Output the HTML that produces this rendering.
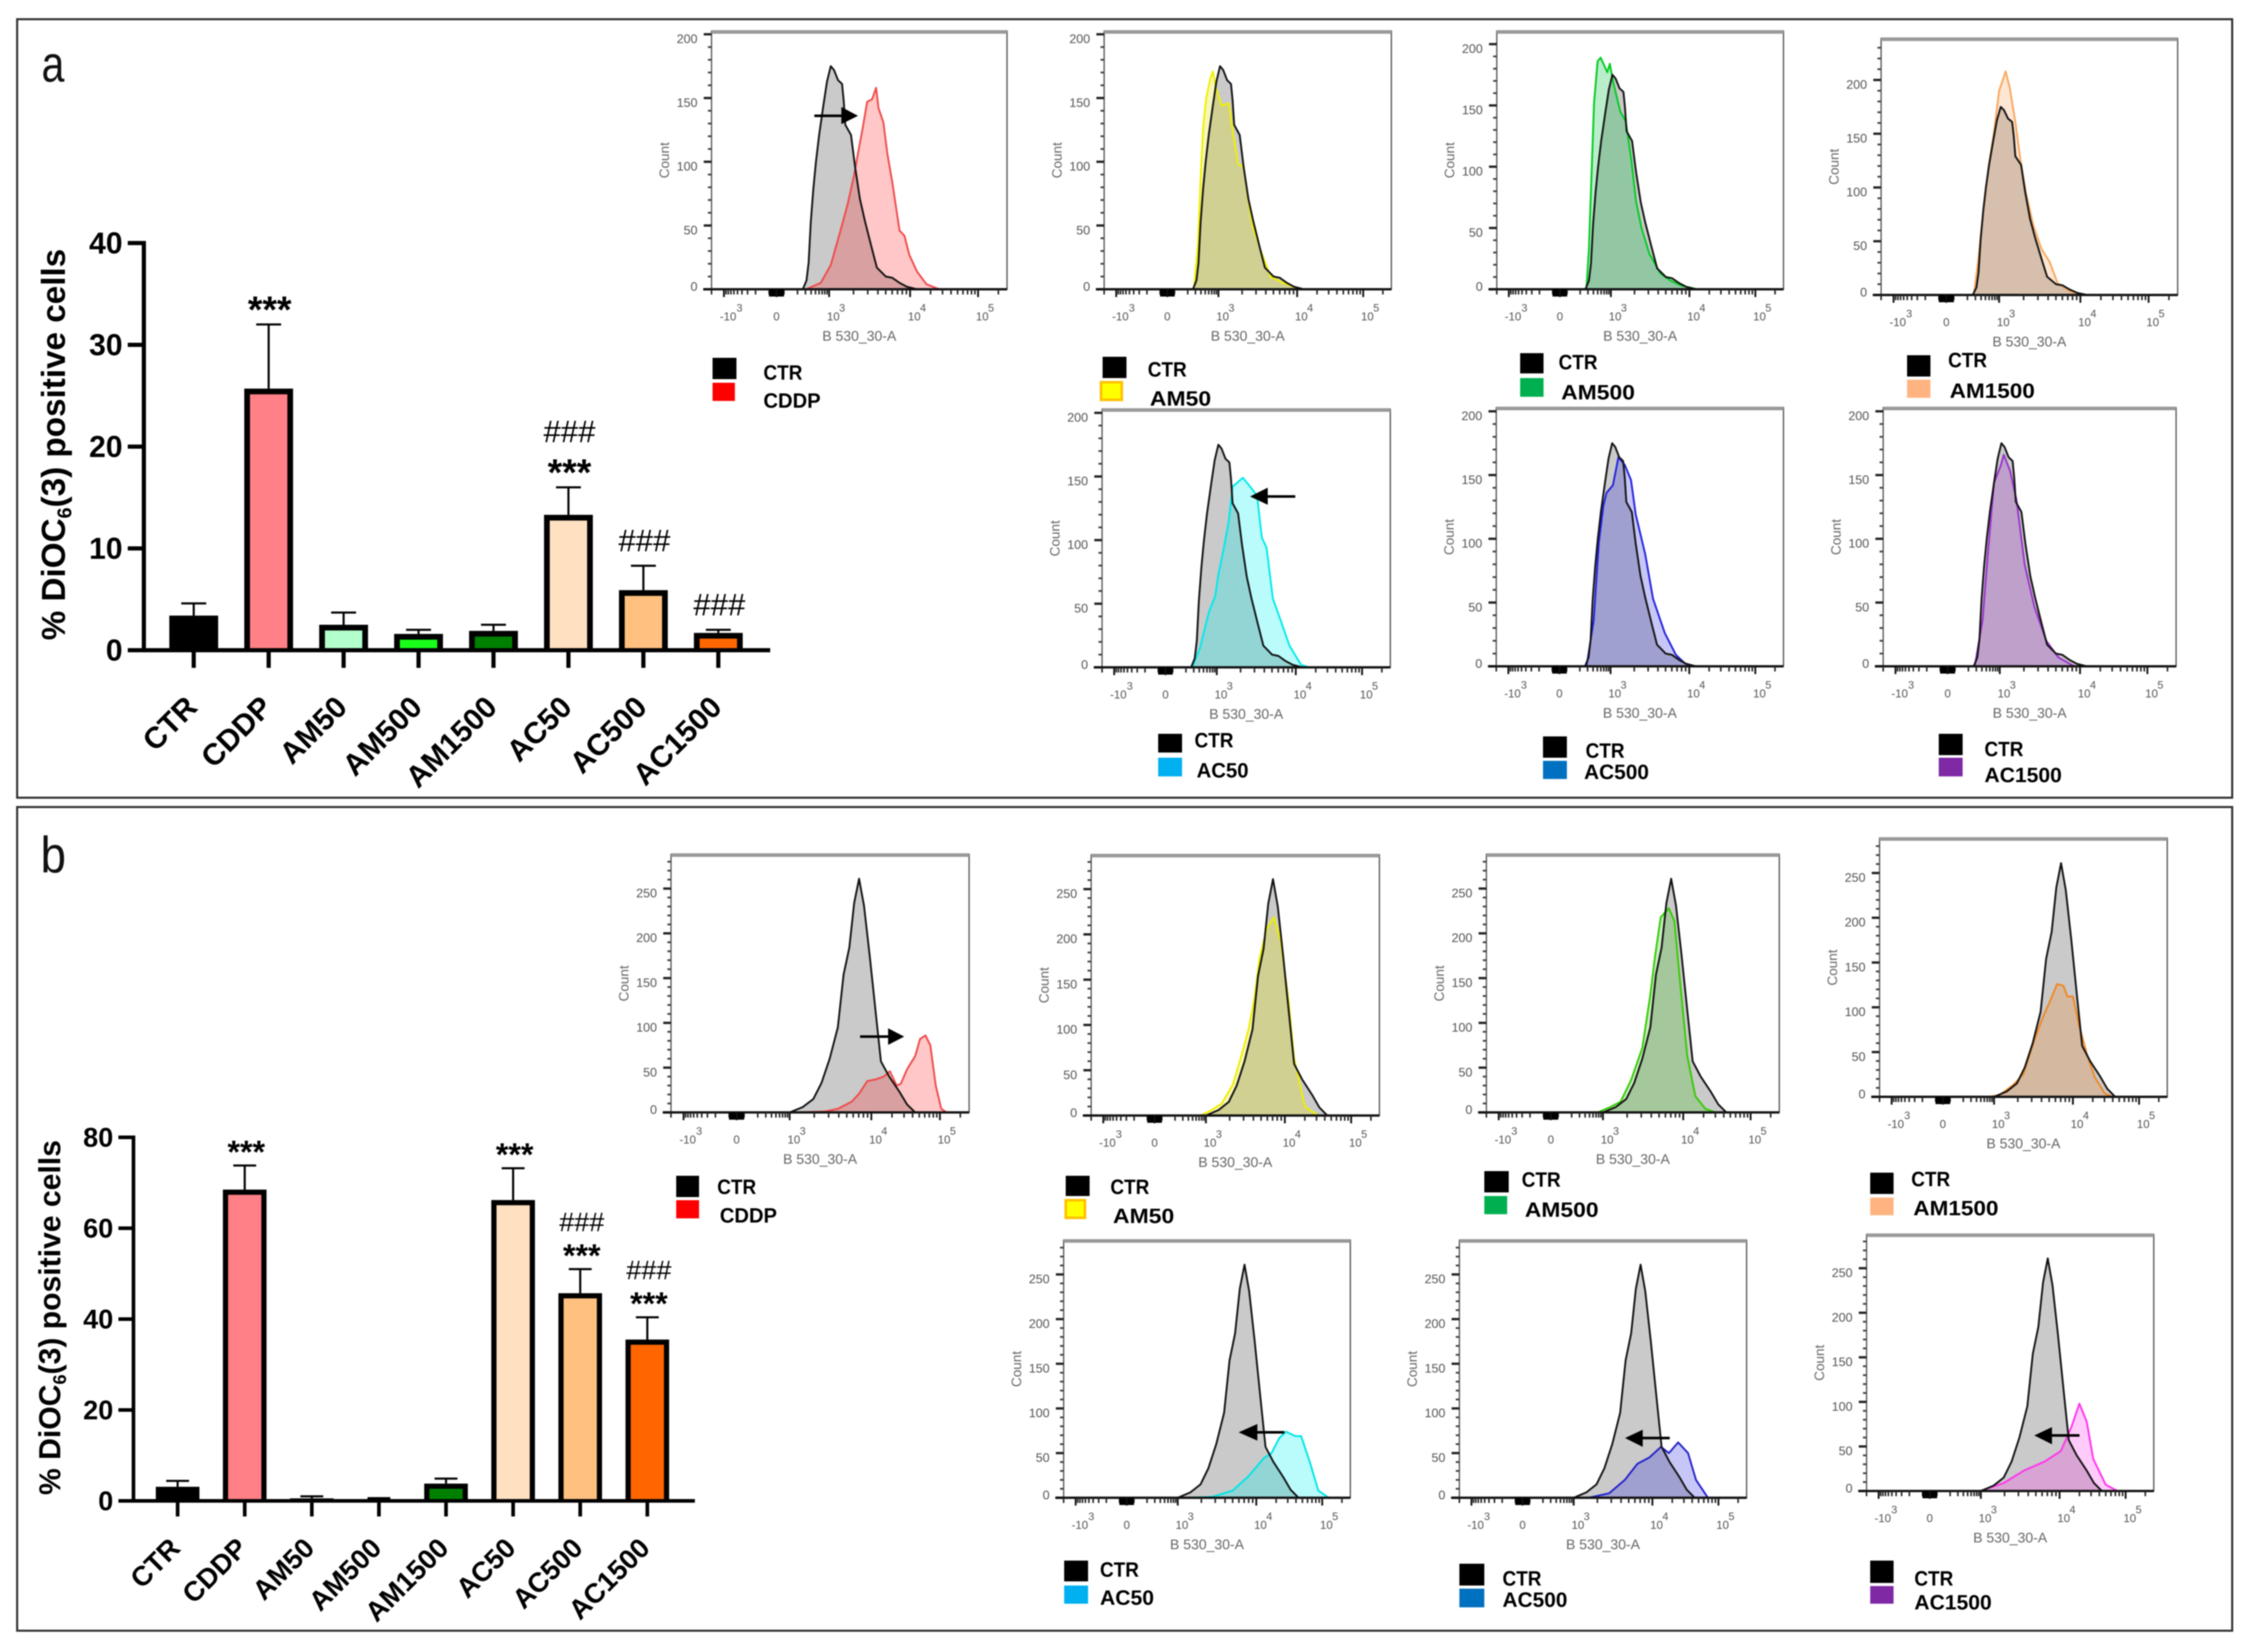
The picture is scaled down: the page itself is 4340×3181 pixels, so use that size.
<!DOCTYPE html>
<html lang="en">
<head>
<meta charset="utf-8">
<title>DiOC6(3) positive cells – bar charts and flow cytometry histograms</title>
<style>
html,body{margin:0;padding:0;background:#fff;width:4340px;height:3181px;overflow:hidden}
svg{display:block;font-family:"Liberation Sans",Arial,sans-serif;filter:blur(1px)}
.leg{font-weight:bold;font-size:40px;fill:#000}
</style>
</head>
<body>
<svg id="figure" xmlns="http://www.w3.org/2000/svg" width="4340" height="3181" viewBox="0 0 4340 3181">
  <rect x="0" y="0" width="4340" height="3181" fill="#fff"/>
  <rect x="33" y="37" width="4265" height="1499" fill="none" stroke="#333" stroke-width="4"/>
  <rect x="33" y="1554" width="4265" height="1586" fill="none" stroke="#333" stroke-width="4"/>
  <text x="80" y="157" font-size="98" fill="#111" textLength="44" lengthAdjust="spacingAndGlyphs">a</text>
  <text x="78" y="1680" font-size="98" fill="#111" textLength="49" lengthAdjust="spacingAndGlyphs">b</text>

  <text transform="translate(125 856) rotate(-90)" text-anchor="middle" font-size="64" font-weight="bold" fill="#000">% DiOC<tspan dy="12" font-size="38">6</tspan><tspan dy="-12">(3) positive cells</tspan></text>
  <text transform="translate(116 2537) rotate(-90)" text-anchor="middle" font-size="58" font-weight="bold" fill="#000">% DiOC<tspan dy="11" font-size="35">6</tspan><tspan dy="-11">(3) positive cells</tspan></text>

  <g id="bars-a"></g>
  <g id="bars-b"></g>
  <g id="hists"></g>

  <!-- legends panel a -->
  <g>
    <rect x="1372" y="689" width="46" height="41" fill="#000"/>
    <rect x="1372" y="737" width="43" height="35" fill="#ff0000"/>
    <text class="leg" x="1470" y="731" textLength="75" lengthAdjust="spacingAndGlyphs">CTR</text>
    <text class="leg" x="1470" y="785" textLength="110" lengthAdjust="spacingAndGlyphs">CDDP</text>
  </g>
  <g>
    <rect x="2123" y="687" width="46" height="41" fill="#000"/>
    <rect x="2120" y="736" width="40" height="34" fill="#ffff00" stroke="#ffc000" stroke-width="5"/>
    <text class="leg" x="2210" y="725" textLength="75" lengthAdjust="spacingAndGlyphs">CTR</text>
    <text class="leg" x="2214" y="781" textLength="118" lengthAdjust="spacingAndGlyphs">AM50</text>
  </g>
  <g>
    <rect x="2927" y="680" width="45" height="39" fill="#000"/>
    <rect x="2927" y="728" width="45" height="36" fill="#00b050"/>
    <text class="leg" x="3001" y="711" textLength="75" lengthAdjust="spacingAndGlyphs">CTR</text>
    <text class="leg" x="3006" y="769" textLength="142" lengthAdjust="spacingAndGlyphs">AM500</text>
  </g>
  <g>
    <rect x="3672" y="684" width="45" height="41" fill="#000"/>
    <rect x="3672" y="731" width="45" height="35" fill="#ffb380"/>
    <text class="leg" x="3751" y="707" textLength="75" lengthAdjust="spacingAndGlyphs">CTR</text>
    <text class="leg" x="3754" y="766" textLength="164" lengthAdjust="spacingAndGlyphs">AM1500</text>
  </g>
  <g>
    <rect x="2230" y="1413" width="46" height="36" fill="#000"/>
    <rect x="2230" y="1459" width="46" height="36" fill="#00b0f0"/>
    <text class="leg" x="2300" y="1439" textLength="75" lengthAdjust="spacingAndGlyphs">CTR</text>
    <text class="leg" x="2304" y="1497" textLength="100" lengthAdjust="spacingAndGlyphs">AC50</text>
  </g>
  <g>
    <rect x="2971" y="1418" width="46" height="41" fill="#000"/>
    <rect x="2971" y="1465" width="46" height="35" fill="#0070c0"/>
    <text class="leg" x="3053" y="1459" textLength="75" lengthAdjust="spacingAndGlyphs">CTR</text>
    <text class="leg" x="3050" y="1500" textLength="125" lengthAdjust="spacingAndGlyphs">AC500</text>
  </g>
  <g>
    <rect x="3733" y="1413" width="46" height="41" fill="#000"/>
    <rect x="3733" y="1459" width="46" height="36" fill="#7f29a5"/>
    <text class="leg" x="3821" y="1456" textLength="75" lengthAdjust="spacingAndGlyphs">CTR</text>
    <text class="leg" x="3821" y="1506" textLength="149" lengthAdjust="spacingAndGlyphs">AC1500</text>
  </g>

  <!-- legends panel b -->
  <g>
    <rect x="1302" y="2264" width="44" height="41" fill="#000"/>
    <rect x="1302" y="2311" width="44" height="35" fill="#ff0000"/>
    <text class="leg" x="1381" y="2299" textLength="75" lengthAdjust="spacingAndGlyphs">CTR</text>
    <text class="leg" x="1386" y="2354" textLength="110" lengthAdjust="spacingAndGlyphs">CDDP</text>
  </g>
  <g>
    <rect x="2052" y="2264" width="46" height="39" fill="#000"/>
    <rect x="2052" y="2311" width="37" height="34" fill="#ffff00" stroke="#ffc000" stroke-width="5"/>
    <text class="leg" x="2138" y="2299" textLength="75" lengthAdjust="spacingAndGlyphs">CTR</text>
    <text class="leg" x="2143" y="2355" textLength="118" lengthAdjust="spacingAndGlyphs">AM50</text>
  </g>
  <g>
    <rect x="2858" y="2255" width="47" height="41" fill="#000"/>
    <rect x="2858" y="2303" width="44" height="35" fill="#00b050"/>
    <text class="leg" x="2930" y="2285" textLength="75" lengthAdjust="spacingAndGlyphs">CTR</text>
    <text class="leg" x="2936" y="2343" textLength="142" lengthAdjust="spacingAndGlyphs">AM500</text>
  </g>
  <g>
    <rect x="3601" y="2258" width="45" height="41" fill="#000"/>
    <rect x="3601" y="2306" width="45" height="34" fill="#ffb380"/>
    <text class="leg" x="3680" y="2284" textLength="75" lengthAdjust="spacingAndGlyphs">CTR</text>
    <text class="leg" x="3684" y="2340" textLength="164" lengthAdjust="spacingAndGlyphs">AM1500</text>
  </g>
  <g>
    <rect x="2049" y="3005" width="46" height="40" fill="#000"/>
    <rect x="2049" y="3053" width="46" height="35" fill="#00b0f0"/>
    <text class="leg" x="2118" y="3036" textLength="75" lengthAdjust="spacingAndGlyphs">CTR</text>
    <text class="leg" x="2118" y="3090" textLength="104" lengthAdjust="spacingAndGlyphs">AC50</text>
  </g>
  <g>
    <rect x="2810" y="3011" width="48" height="42" fill="#000"/>
    <rect x="2810" y="3059" width="48" height="36" fill="#0070c0"/>
    <text class="leg" x="2893" y="3053" textLength="75" lengthAdjust="spacingAndGlyphs">CTR</text>
    <text class="leg" x="2893" y="3094" textLength="125" lengthAdjust="spacingAndGlyphs">AC500</text>
  </g>
  <g>
    <rect x="3601" y="3005" width="45" height="43" fill="#000"/>
    <rect x="3601" y="3054" width="45" height="34" fill="#7f29a5"/>
    <text class="leg" x="3686" y="3053" textLength="75" lengthAdjust="spacingAndGlyphs">CTR</text>
    <text class="leg" x="3686" y="3099" textLength="149" lengthAdjust="spacingAndGlyphs">AC1500</text>
  </g>

  <!-- shift arrows -->
  <g><line x1="1568" y1="223" x2="1622" y2="223" stroke="#000" stroke-width="5"/><polygon points="1620,206 1652,223 1620,239" fill="#000"/></g>
  <g><line x1="2494" y1="956" x2="2439" y2="956" stroke="#000" stroke-width="5"/><polygon points="2441,939 2407,956 2441,972" fill="#000"/></g>
  <g><line x1="1656" y1="1996" x2="1712" y2="1996" stroke="#000" stroke-width="5"/><polygon points="1710,1980 1741,1996 1710,2012" fill="#000"/></g>
  <g><line x1="2473" y1="2758" x2="2419" y2="2758" stroke="#000" stroke-width="5"/><polygon points="2421,2742 2385,2758 2421,2774" fill="#000"/></g>
  <g><line x1="3215" y1="2769" x2="3161" y2="2769" stroke="#000" stroke-width="5"/><polygon points="3163,2753 3129,2769 3163,2786" fill="#000"/></g>
  <g><line x1="4004" y1="2764" x2="3949" y2="2764" stroke="#000" stroke-width="5"/><polygon points="3951,2748 3917,2764 3951,2781" fill="#000"/></g>
</svg>

<script>
/* ---------- bar chart data ---------- */
const barCategories = ['CTR','CDDP','AM50','AM500','AM1500','AC50','AC500','AC1500'];
const barColors = ['#000000','#ff8086','#b3ffcc','#1aff1a','#008000','#ffe0c0','#ffc080','#ff6600'];
const panelAValues = [3.4,25.7,2.5,1.6,1.9,13.3,5.9,1.7];
const panelAErrors = [4.6,32.0,3.7,2.0,2.5,16.0,8.3,2.0];
const panelAStars  = ['','***','','','','***','',''];
const panelAHashes = ['','','','','','###','###','###'];
const panelATicks  = [0,10,20,30,40];
const panelBValues = [3.1,68.5,0.55,0.3,3.8,66.2,45.7,35.5];
const panelBErrors = [4.4,73.8,1.0,0.6,4.9,73.2,51.0,40.4];
const panelBStars  = ['','***','','','','***','***','***'];
const panelBHashes = ['','','','','','','###','###'];
const panelBTicks  = [0,20,40,60,80];

/* ---------- histogram axis data ---------- */
const histXTicks = [1,2,3,4,5];
const histXBase  = ['-10','0','10','10','10'];
const histXExp   = ['3','','3','4','5'];
const histYTicksA = [0,50,100,150,200];
const histYTicksB = [0,50,100,150,200,250];

/* ---------- histogram curves: [axis decade, count] ---------- */
const ctrCurveA = [[2.5,0],[2.57,7],[2.61,21],[2.65,52],[2.7,79],[2.75,100],[2.81,121],[2.89,144],[2.96,163],[3.02,175],[3.06,172],[3.11,164],[3.16,161],[3.18,148],[3.2,129],[3.27,121],[3.32,96],[3.38,71],[3.44,54],[3.52,34],[3.59,17],[3.7,10],[3.78,9],[3.87,5],[3.96,2],[4.1,0]];
const cddpCurveA = [[2.56,0],[2.84,5],[3.02,19],[3.14,46],[3.23,67],[3.31,90],[3.36,108],[3.41,125],[3.47,147],[3.53,149],[3.58,158],[3.61,142],[3.67,131],[3.72,106],[3.78,84],[3.82,67],[3.87,46],[3.93,42],[3.99,27],[4.1,14],[4.24,4],[4.43,0]];
const am50CurveA = [[2.52,0],[2.6,36],[2.65,86],[2.7,127],[2.76,150],[2.84,165],[2.89,171],[2.95,158],[3.04,144],[3.13,146],[3.19,121],[3.25,98],[3.32,96],[3.38,69],[3.44,48],[3.54,30],[3.66,10],[3.82,5],[4.05,0]];
const am500CurveA = [[2.52,0],[2.57,33],[2.62,93],[2.67,152],[2.74,186],[2.8,189],[2.93,177],[2.98,184],[3.03,169],[3.12,145],[3.19,137],[3.26,106],[3.32,72],[3.39,50],[3.49,29],[3.63,13],[3.76,7],[3.9,3],[4.12,0]];
const am1500CurveA = [[2.52,0],[2.6,31],[2.7,77],[2.8,119],[2.9,151],[3.0,190],[3.08,208],[3.13,193],[3.2,161],[3.26,127],[3.33,95],[3.42,65],[3.52,43],[3.62,31],[3.72,11],[3.91,1],[4.02,0]];
const ac50CurveA = [[2.52,0],[2.67,15],[2.85,44],[2.97,56],[3.02,73],[3.08,91],[3.15,114],[3.2,142],[3.33,149],[3.41,143],[3.51,135],[3.57,102],[3.63,94],[3.71,54],[3.82,35],[3.92,17],[4.08,2],[4.2,0]];
const ac500CurveA = [[2.53,0],[2.67,36],[2.77,97],[2.86,126],[2.92,136],[3.03,142],[3.1,164],[3.18,158],[3.26,146],[3.32,119],[3.44,88],[3.54,53],[3.69,26],[3.83,9],[3.95,2],[4.1,0]];
const ac1500CurveA = [[2.52,0],[2.67,36],[2.77,88],[2.89,144],[3.01,157],[3.05,166],[3.13,153],[3.21,130],[3.31,80],[3.43,47],[3.58,20],[3.73,7],[3.93,0]];

const ctrCurveB = [[3.0,0],[3.16,6],[3.29,15],[3.39,33],[3.49,60],[3.59,95],[3.66,154],[3.73,184],[3.79,234],[3.85,261],[3.91,231],[3.98,175],[4.07,107],[4.14,57],[4.26,40],[4.41,23],[4.52,9],[4.64,0]];
const cddpCurveB = [[3.09,0],[3.43,1],[3.59,4],[3.76,12],[3.85,21],[3.95,35],[4.07,37],[4.18,40],[4.27,46],[4.37,30],[4.43,32],[4.52,48],[4.64,63],[4.71,82],[4.79,86],[4.86,75],[4.94,30],[5.02,4],[5.1,0]];
const am50CurveB = [[2.9,0],[3.07,6],[3.2,13],[3.34,34],[3.44,63],[3.54,95],[3.61,127],[3.68,174],[3.77,206],[3.86,219],[3.95,192],[4.06,124],[4.14,63],[4.22,37],[4.3,10],[4.5,0]];
const am500CurveB = [[2.9,0],[3.09,6],[3.22,12],[3.35,36],[3.49,72],[3.59,131],[3.65,175],[3.72,218],[3.82,228],[3.89,214],[3.97,137],[4.06,63],[4.18,18],[4.33,4],[4.48,0]];
const am1500CurveB = [[2.9,0],[3.07,2],[3.24,13],[3.37,25],[3.51,63],[3.61,87],[3.71,107],[3.8,126],[3.88,124],[3.93,112],[4.0,112],[4.1,78],[4.21,48],[4.33,22],[4.48,4],[4.6,0]];
const ac50CurveB = [[3.09,0],[3.44,1],[3.7,8],[3.9,24],[4.11,44],[4.23,50],[4.35,67],[4.45,74],[4.59,69],[4.68,69],[4.82,38],[4.94,8],[5.1,0]];
const ac500CurveB = [[3.19,0],[3.45,5],[3.65,20],[3.81,38],[3.96,45],[4.13,57],[4.25,50],[4.39,62],[4.54,50],[4.66,20],[4.84,0]];
const ac1500CurveB = [[2.98,0],[3.29,9],[3.55,23],[3.81,33],[4.02,45],[4.18,72],[4.3,98],[4.41,78],[4.51,36],[4.7,7],[4.88,0]];

const SVGNS = 'http://www.w3.org/2000/svg';
function make(tag, attrs, parent, text) {
  const n = document.createElementNS(SVGNS, tag);
  for (const k in attrs) n.setAttribute(k, attrs[k]);
  if (text !== undefined) n.textContent = text;
  parent.appendChild(n);
  return n;
}

/* ---------- bar charts ---------- */
function drawBars(root, prefix, values, errors, stars, hashes, ticks, g) {
  const yScale = v => g.y0 - (g.y0 - g.yTop) * v / ticks[ticks.length - 1];
  const xScale = i => g.x0 + i * g.step;

  ticks.forEach(t => {
    let el = make('line', {x1:g.axisX - g.tick, x2:g.axisX, y1:yScale(t), y2:yScale(t), stroke:'#000', 'stroke-width':g.axisW}, root);
    
    
    el = make('text', {x:g.axisX - g.tick - 10, y:yScale(t) + g.labelDy, 'text-anchor':'end', 'font-size':g.yFont, 'font-weight':'bold', fill:'#000'}, root, String(t));
    
    
  });

  barCategories.forEach((cat, i) => {
    const cx = xScale(i), top = yScale(values[i]), errY = yScale(errors[i]);
    const slug = cat.toLowerCase();
    let el = make('line', {x1:cx, x2:cx, y1:errY, y2:top, stroke:'#000', 'stroke-width':g.errW}, root);
    
    
    el = make('line', {x1:cx - g.cap, x2:cx + g.cap, y1:errY, y2:errY, stroke:'#000', 'stroke-width':g.errW}, root);
    
    
    el = make('rect', {x:cx - g.barW / 2, y:top, width:g.barW, height:g.y0 - top, fill:'#000'}, root);
    
    
    const innerH = Math.max(0, g.y0 - top - g.stroke);
    el = make('rect', {x:cx - g.barW / 2 + g.stroke, y:top + g.stroke, width:g.barW - 2 * g.stroke, height:innerH, fill:barColors[i]}, root);
    
    
    el = make('line', {x1:cx, x2:cx, y1:g.y0, y2:g.y0 + g.xTick, stroke:'#000', 'stroke-width':g.axisW}, root);
    
    
    const lx = cx + g.catDx, ly = g.y0 + g.catDy;
    el = make('text', {x:lx, y:ly, 'text-anchor':'end', 'font-size':g.catFont, 'font-weight':'bold', fill:'#000', transform:'rotate(-45 ' + lx + ' ' + ly + ')'}, root, cat);
    
    
    if (stars[i]) {
      el = make('text', {x:cx + g.markDx, y:errY + g.starDy, 'text-anchor':'middle', 'font-size':g.starFont, 'font-weight':'bold', fill:'#000'}, root, stars[i]);
      
      
    }
    if (hashes[i]) {
      const off = stars[i] ? g.hashHigh : g.hashLow;
      el = make('text', {x:cx + g.markDx, y:errY - off, 'text-anchor':'middle', 'font-size':g.hashFont, fill:'#000'}, root, hashes[i]);
      
      
    }
  });

  let axis = make('line', {x1:g.axisX, x2:g.axisX, y1:g.yTop - g.axisW / 2, y2:g.y0 + g.axisW / 2, stroke:'#000', 'stroke-width':g.axisW}, root);
  
  
  axis = make('line', {x1:g.axisX, x2:g.xEnd, y1:g.y0, y2:g.y0, stroke:'#000', 'stroke-width':g.axisW}, root);
  
  
}

drawBars(document.getElementById('bars-a'), 'a', panelAValues, panelAErrors, panelAStars, panelAHashes, panelATicks, {
  x0:373, step:144.3, y0:1252, yTop:468, axisX:277, xEnd:1483, tick:31, xTick:34, axisW:8, barW:94, stroke:11, errW:4, cap:24,
  yFont:58, labelDy:20, catFont:58, catDx:10, catDy:113, markDx:2, starFont:72, starDy:-4, hashFont:60, hashLow:28, hashHigh:87
});
drawBars(document.getElementById('bars-b'), 'b', panelBValues, panelBErrors, panelBStars, panelBHashes, panelBTicks, {
  x0:342, step:129.2, y0:2890, yTop:2190, axisX:257, xEnd:1338, tick:29, xTick:30, axisW:7, barW:84, stroke:10, errW:4, cap:22,
  yFont:52, labelDy:18, catFont:53, catDx:8, catDy:94, markDx:3, starFont:62, starDy:-5, hashFont:52, hashLow:73, hashHigh:73
});

/* ---------- flow histograms ---------- */
function axisFraction(u) {
  const stops = [[0.76,0],[1,0.042],[2,0.22],[3,0.398],[4,0.672],[5,0.902],[5.43,1]];
  if (u <= stops[0][0]) return 0;
  for (let i = 1; i < stops.length; i++) {
    if (u <= stops[i][0]) {
      const a = stops[i - 1], b = stops[i];
      return a[1] + (b[1] - a[1]) * (u - a[0]) / (b[0] - a[0]);
    }
  }
  return 1;
}
function valueToDecade(v) {
  const a = Math.abs(v);
  if (a >= 1000) { return v > 0 ? Math.log10(a) : 4 - Math.log10(a); }
  const f = a < 100 ? 0.14 * a / 100 : 0.14 + 0.86 * Math.log10(a / 100);
  return v > 0 ? 2 + f : 2 - f;
}
function minorValues() {
  const out = [];
  for (let k = 2; k < 10; k++) { out.push(k * 100, -k * 100, k * 1000, k * 10000); }
  out.push(100, -100, 200000, -2000);
  return out;
}
function zeroClusterValues() {
  const out = [];
  for (let k = 1; k < 10; k++) { out.push(k * 10, -k * 10); }
  return out;
}

function drawHistogram(root, name, g, ctrCurve, curve, yTicks, lineColor, fillColor) {
  const W = g.right - g.x, gp = make('g', {}, root);
  
  
  const xScale = u => g.x + W * axisFraction(u);
  const yScale = c => g.y0 - (g.y0 - g.yRef) * c / yTicks[yTicks.length - 1];
  const curvePath = pts => pts.map(p => xScale(p[0]).toFixed(1) + ' ' + yScale(p[1]).toFixed(1)).join(' L');
  const area = pts => 'M' + g.x + ' ' + g.y0 + ' L' + curvePath(pts) + ' L' + g.right + ' ' + g.y0 + ' Z';
  const line = pts => 'M' + g.x + ' ' + g.y0 + ' L' + curvePath(pts) + ' L' + g.right + ' ' + g.y0;

  let el = make('rect', {x:g.x, y:g.top, width:W, height:g.y0 - g.top, fill:'#fff', stroke:'#555', 'stroke-width':2.5}, gp);
  
  
  el = make('rect', {x:g.x, y:g.top - 2, width:W, height:7, fill:'#9a9a9a'}, gp);
  
  

  el = make('path', {d:area(ctrCurve), fill:'#808080', 'fill-opacity':0.42}, gp);
  
  
  el = make('path', {d:area(curve), fill:fillColor, 'fill-opacity':0.27}, gp);
  
  
  el = make('path', {d:line(curve), fill:'none', stroke:lineColor, 'stroke-width':3.5, 'stroke-linejoin':'round'}, gp);
  
  
  el = make('path', {d:line(ctrCurve), fill:'none', stroke:'#111', 'stroke-width':3.5, 'stroke-linejoin':'round'}, gp);
  
  

  /* y axis */
  let minorY = '';
  const tickStep = yTicks[1] - yTicks[0], minorStep = tickStep / 5;
  for (let c = minorStep; yScale(c) > g.top + 4; c += minorStep) {
    minorY += 'M' + (g.x - 7) + ' ' + yScale(c).toFixed(1) + 'H' + g.x;
  }
  el = make('path', {d:minorY, stroke:'#444', 'stroke-width':3.5, fill:'none'}, gp);
  
  
  yTicks.forEach((t, i) => {
    el = make('line', {x1:g.x - 15, x2:g.x, y1:yScale(t), y2:yScale(t), stroke:'#222', 'stroke-width':4.5}, gp);
    
    
    el = make('text', {x:g.x - 27, y:yScale(t) + (i === 0 ? 3 : 17), 'text-anchor':'end', 'font-size':24, fill:'#555'}, gp, String(t));
    
    
  });
  const cy = (g.top + g.y0) / 2, cx = g.x - 82;
  el = make('text', {x:cx, y:cy, 'text-anchor':'middle', 'font-size':26, fill:'#666', transform:'rotate(-90 ' + cx + ' ' + cy + ')'}, gp, 'Count');
  
  

  /* x axis */
  el = make('line', {x1:g.x - 16, x2:g.right, y1:g.y0, y2:g.y0, stroke:'#111', 'stroke-width':4.5}, gp);
  
  
  let minorX = '';
  minorValues().forEach(v => {
    const u = valueToDecade(v);
    minorX += 'M' + xScale(u).toFixed(1) + ' ' + g.y0 + 'v10';
  });
  el = make('path', {d:minorX, stroke:'#222', 'stroke-width':3, fill:'none'}, gp);
  
  
  let clusterX = '';
  zeroClusterValues().forEach(v => {
    const u = valueToDecade(v);
    clusterX += 'M' + xScale(u).toFixed(1) + ' ' + g.y0 + 'v14';
  });
  el = make('path', {d:clusterX, stroke:'#000', 'stroke-width':3.5, fill:'none'}, gp);
  
  
  histXTicks.forEach((u, i) => {
    const tx = xScale(u);
    el = make('line', {x1:tx, x2:tx, y1:g.y0, y2:g.y0 + 15, stroke:'#111', 'stroke-width':3.5}, gp);
    
    
    el = make('text', {x:histXExp[i] ? tx + 8 : tx, y:g.y0 + 60, 'text-anchor':'middle', 'font-size':22, fill:'#555'}, gp, histXBase[i]);
    
    
    if (histXExp[i]) {
      el = make('text', {x:tx + (i === 0 ? 30 : 25), y:g.y0 + 43, 'font-size':21, 'text-anchor':'middle', fill:'#555'}, gp, histXExp[i]);
      
      
    }
  });
  el = make('text', {x:g.x + W * 0.5, y:g.y0 + 99, 'text-anchor':'middle', 'font-size':27, fill:'#666'}, gp, 'B 530_30-A');
  
  
}

const hists = document.getElementById('hists');
drawHistogram(hists, 'a-cddp',   {x:1370, right:1939, top:60,  y0:557,  yRef:66},  ctrCurveA, cddpCurveA,   histYTicksA, '#f04a4a', '#ff3030');
drawHistogram(hists, 'a-am50',   {x:2126, right:2679, top:60,  y0:557,  yRef:66},  ctrCurveA, am50CurveA,   histYTicksA, '#f0f000', '#e0e000');
drawHistogram(hists, 'a-am500',  {x:2882, right:3434, top:60,  y0:557,  yRef:85},  ctrCurveA, am500CurveA,  histYTicksA, '#00cc20', '#00c040');
drawHistogram(hists, 'a-am1500', {x:3622, right:4193, top:74,  y0:568,  yRef:154}, ctrCurveA, am1500CurveA, histYTicksA, '#f8a860', '#f8a860');
drawHistogram(hists, 'a-ac50',   {x:2122, right:2677, top:788, y0:1285, yRef:795}, ctrCurveA, ac50CurveA,   histYTicksA, '#00eaea', '#00f0f0');
drawHistogram(hists, 'a-ac500',  {x:2881, right:3434, top:785, y0:1283, yRef:792}, ctrCurveA, ac500CurveA,  histYTicksA, '#2222dd', '#3030e0');
drawHistogram(hists, 'a-ac1500', {x:3626, right:4190, top:785, y0:1283, yRef:792}, ctrCurveA, ac1500CurveA, histYTicksA, '#9933cc', '#a030d0');
drawHistogram(hists, 'b-cddp',   {x:1292, right:1866, top:1645, y0:2142, yRef:1711}, ctrCurveB, cddpCurveB,   histYTicksB, '#f04a4a', '#ff3030');
drawHistogram(hists, 'b-am50',   {x:2101, right:2656, top:1646, y0:2148, yRef:1712}, ctrCurveB, am50CurveB,   histYTicksB, '#eeee00', '#e0e000');
drawHistogram(hists, 'b-am500',  {x:2862, right:3426, top:1645, y0:2142, yRef:1711}, ctrCurveB, am500CurveB,  histYTicksB, '#33cc00', '#40c020');
drawHistogram(hists, 'b-am1500', {x:3619, right:4173, top:1614, y0:2112, yRef:1681}, ctrCurveB, am1500CurveB, histYTicksB, '#ee8822', '#f08a30');
drawHistogram(hists, 'b-ac50',   {x:2048, right:2600, top:2388, y0:2884, yRef:2454}, ctrCurveB, ac50CurveB,   histYTicksB, '#00e5e5', '#00f0f0');
drawHistogram(hists, 'b-ac500',  {x:2810, right:3363, top:2388, y0:2884, yRef:2454}, ctrCurveB, ac500CurveB,  histYTicksB, '#2222cc', '#3030e0');
drawHistogram(hists, 'b-ac1500', {x:3594, right:4147, top:2377, y0:2871, yRef:2442}, ctrCurveB, ac1500CurveB, histYTicksB, '#ff33ee', '#ff40f0');
</script>
</body>
</html>
